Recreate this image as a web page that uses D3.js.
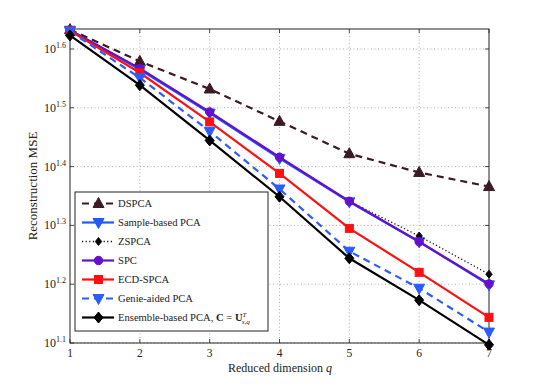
<!DOCTYPE html>
<html><head><meta charset="utf-8">
<script src="https://cdn.jsdelivr.net/npm/d3@7"></script>
<style>body{margin:0;background:#fff}svg{display:block}</style>
</head><body><svg id="c" width="540" height="386" font-family="'Liberation Serif', 'Times New Roman', 'DejaVu Serif', serif"></svg>
<script>
const qValues = [1, 2, 3, 4, 5, 6, 7];
const yTickExponents = [1.1, 1.2, 1.3, 1.4, 1.5, 1.6];
const dspca = [42.95, 37.93, 34.04, 29.99, 26.42, 24.55, 23.23];
const sampleBased = [42.85, 36.73, 30.97, 25.94, 21.88, 18.71, 15.81];
const zspca = [42.85, 36.90, 31.05, 26.06, 21.93, 19.14, 16.48];
const spc = [42.85, 36.90, 31.12, 26.06, 21.93, 18.71, 15.87];
const ecdSpca = [42.76, 36.27, 29.92, 24.46, 19.72, 16.60, 13.92];
const genieAided = [42.66, 35.56, 28.84, 23.01, 18.03, 15.60, 13.14];
const ensemble = [41.98, 34.55, 27.83, 22.32, 17.54, 14.89, 12.50];

const series = [
  {name:"DSPCA", values:dspca, color:"#3b1a24", dash:"7,5", width:2.2, marker:"triUp", fill:"#3b1a24"},
  {name:"Sample-based PCA", values:sampleBased, color:"#2158ff", dash:null, width:2.2, marker:"triDown", fill:"#2158ff"},
  {name:"ZSPCA", values:zspca, color:"#111", dash:"1.2,2.4", width:1.3, marker:"diamondSmall", fill:"#000"},
  {name:"SPC", values:spc, color:"#6410cc", dash:null, width:2.2, marker:"circle", fill:"#6410cc"},
  {name:"ECD-SPCA", values:ecdSpca, color:"#ff1010", dash:null, width:2.2, marker:"square", fill:"#ff1010"},
  {name:"Genie-aided PCA", values:genieAided, color:"#2a5cff", dash:"7,5", width:2.2, marker:"triDown", fill:"#2a5cff"},
  {name:"Ensemble-based PCA", values:ensemble, color:"#000", dash:null, width:2.2, marker:"diamond", fill:"#000"}
];

const svg = d3.select("#c");
const L=70, R=489, T=29, B=343;
const x = d3.scaleLinear().domain([1,7]).range([L,R]);
const y = d3.scaleLog().domain([Math.pow(10,1.1), Math.pow(10,1.634)]).range([B,T]);

const g = svg.append("g");
g.selectAll(".gx").data(qValues.slice(1,-1)).join("line")
  .attr("x1",d=>x(d)).attr("x2",d=>x(d)).attr("y1",T).attr("y2",B)
  .attr("stroke","#999").attr("stroke-width",0.8).attr("stroke-dasharray","1,2.5");
g.selectAll(".gy").data(yTickExponents).join("line")
  .attr("x1",L).attr("x2",R).attr("y1",d=>y(Math.pow(10,d))).attr("y2",d=>y(Math.pow(10,d)))
  .attr("stroke","#999").attr("stroke-width",0.8).attr("stroke-dasharray","1,2.5");

const tk = svg.append("g").attr("stroke","#222").attr("stroke-width",0.8);
qValues.forEach(q=>{
  tk.append("line").attr("x1",x(q)).attr("x2",x(q)).attr("y1",B).attr("y2",B-4);
  tk.append("line").attr("x1",x(q)).attr("x2",x(q)).attr("y1",T).attr("y2",T+4);
});
yTickExponents.forEach(e=>{
  const yy=y(Math.pow(10,e));
  tk.append("line").attr("x1",L).attr("x2",L+4).attr("y1",yy).attr("y2",yy);
  tk.append("line").attr("x1",R).attr("x2",R-4).attr("y1",yy).attr("y2",yy);
});

svg.append("rect").attr("x",L).attr("y",T).attr("width",R-L).attr("height",B-T)
  .attr("fill","none").attr("stroke","#222").attr("stroke-width",1);

svg.selectAll(".xl").data(qValues).join("text")
  .attr("x",d=>x(d)).attr("y",356.5).attr("text-anchor","middle").attr("font-size",11.5).attr("fill","#222").text(d=>d);
yTickExponents.forEach(e=>{
  const t = svg.append("text").attr("x",66).attr("y",y(Math.pow(10,e))+4).attr("text-anchor","end").attr("font-size",12).attr("fill","#222");
  t.append("tspan").text("10");
  t.append("tspan").attr("dy",-5).attr("font-size",8).text(e.toFixed(1));
});

const xt = svg.append("text").attr("x",280).attr("y",372).attr("text-anchor","middle").attr("font-size",12).attr("fill","#222");
xt.append("tspan").text("Reduced dimension ");
xt.append("tspan").attr("font-style","italic").text("q");
svg.append("text").attr("transform","translate(37,186) rotate(-90)").attr("text-anchor","middle")
  .attr("font-size",13).attr("fill","#222").text("Reconstruction MSE");

function marker(sel, type, cx, cy){
  if(type==="triUp") sel.append("path").attr("d",`M${cx},${cy-6}L${cx+5.5},${cy+4}L${cx-5.5},${cy+4}Z`);
  else if(type==="triDown") sel.append("path").attr("d",`M${cx},${cy+6}L${cx+5.5},${cy-4}L${cx-5.5},${cy-4}Z`);
  else if(type==="circle") sel.append("circle").attr("cx",cx).attr("cy",cy).attr("r",4.2);
  else if(type==="square") sel.append("rect").attr("x",cx-4).attr("y",cy-4).attr("width",8).attr("height",8);
  else if(type==="diamond") sel.append("path").attr("d",`M${cx},${cy-5.5}L${cx+4.5},${cy}L${cx},${cy+5.5}L${cx-4.5},${cy}Z`);
  else if(type==="diamondSmall") sel.append("path").attr("d",`M${cx},${cy-4}L${cx+3.2},${cy}L${cx},${cy+4}L${cx-3.2},${cy}Z`);
}

const line = d3.line().x((d,i)=>x(qValues[i])).y(d=>y(d));
series.forEach(s=>{
  svg.append("path").attr("d",line(s.values)).attr("fill","none").attr("stroke",s.color)
    .attr("stroke-width",s.width).attr("stroke-dasharray",s.dash);
  const mg = svg.append("g").attr("fill",s.fill).attr("stroke",s.color).attr("stroke-width",1);
  s.values.forEach((v,i)=>marker(mg, s.marker, x(qValues[i]), y(v)));
});

const lg = svg.append("g");
lg.append("rect").attr("x",75).attr("y",192).attr("width",193).attr("height",139)
  .attr("fill","#fff").attr("stroke","#222").attr("stroke-width",1);
series.forEach((s,i)=>{
  const yy = 203.5 + i*19;
  lg.append("line").attr("x1",82).attr("x2",114).attr("y1",yy).attr("y2",yy)
    .attr("stroke",s.color).attr("stroke-width",s.width).attr("stroke-dasharray",s.dash);
  const mg = lg.append("g").attr("fill",s.fill).attr("stroke",s.color).attr("stroke-width",1);
  marker(mg, s.marker, 98.5, yy);
  const t = lg.append("text").attr("x",118).attr("y",yy+3.5).attr("font-size",10.6).attr("fill","#222");
  if(i===6){
    t.append("tspan").text("Ensemble-based PCA, ");
    t.append("tspan").attr("font-weight","bold").text("C");
    t.append("tspan").text(" = ");
    t.append("tspan").attr("font-weight","bold").text("U");
    t.append("tspan").attr("dy",-4).attr("font-size",7).attr("font-style","italic").text("T");
    t.append("tspan").attr("dx",-4).attr("dy",7).attr("font-size",7).attr("font-style","italic").text("s,q");
  } else t.text(s.name);
});
</script></body></html>
